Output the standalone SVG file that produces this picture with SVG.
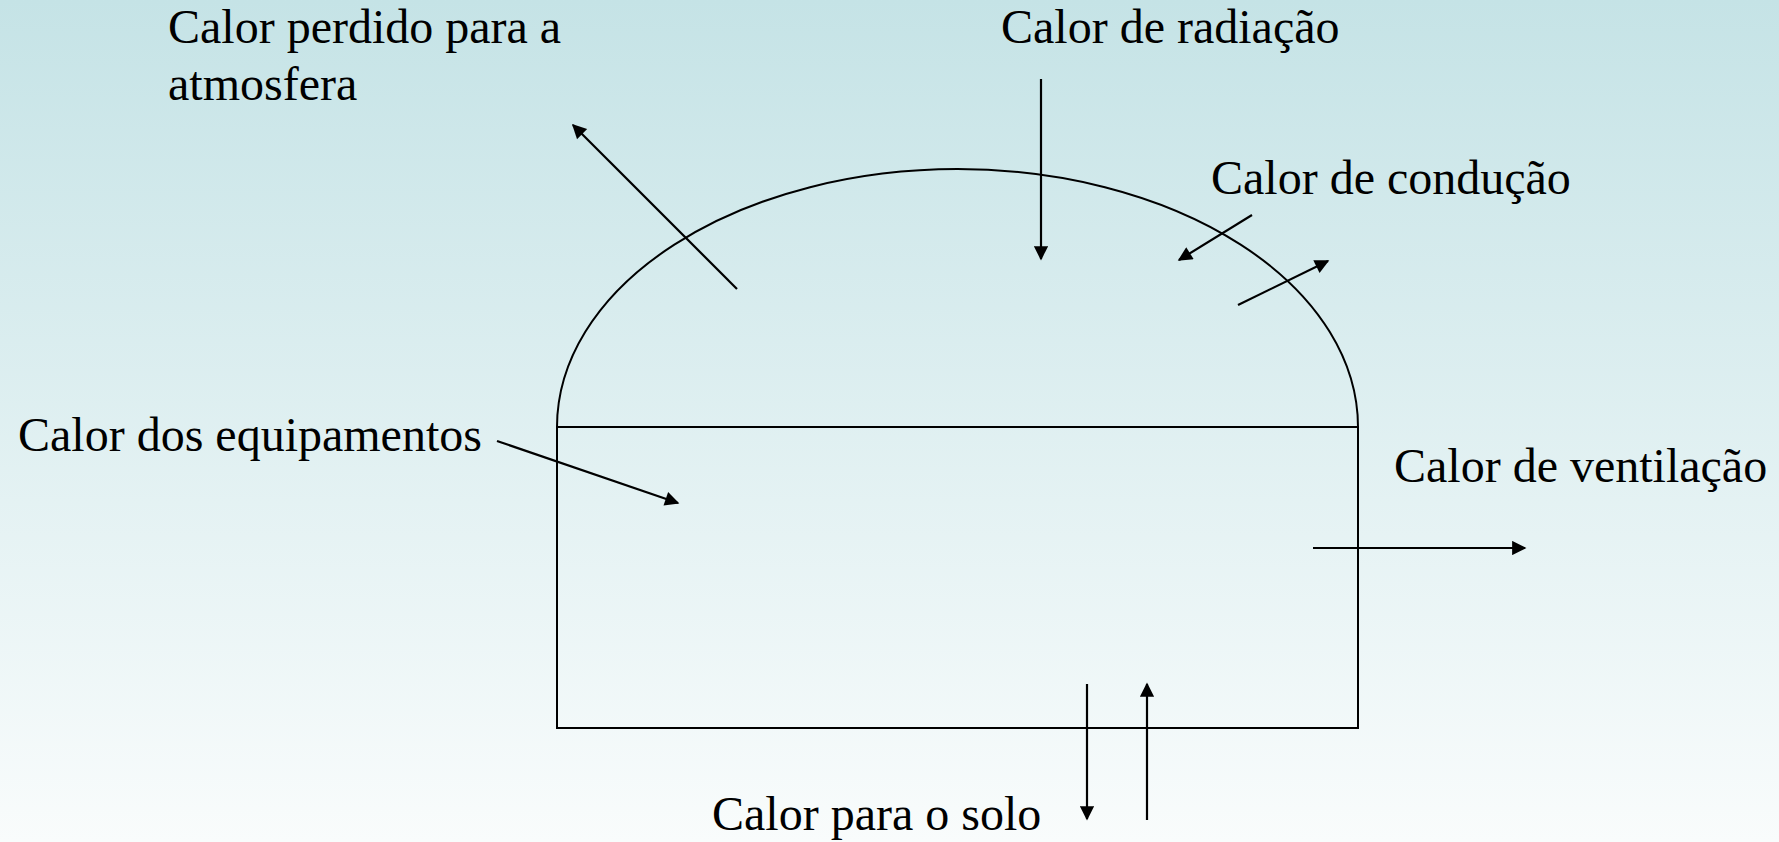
<svg xmlns="http://www.w3.org/2000/svg" width="1779" height="842" viewBox="0 0 1779 842">
<defs>
<linearGradient id="bg" x1="0" y1="0" x2="0" y2="1">
<stop offset="0" stop-color="#c5e3e6"/>
<stop offset="1" stop-color="#f9fcfc"/>
</linearGradient>
<marker id="ah" viewBox="0 0 10 10" refX="9" refY="5" markerWidth="8" markerHeight="6.5" orient="auto" markerUnits="strokeWidth">
<path d="M0,0 L10,5 L0,10 z" fill="#000"/>
</marker>
<style>
.shape{fill:none;stroke:#000;stroke-width:2}
.arr{fill:none;stroke:#000;stroke-width:2.2;marker-end:url(#ah)}
</style>
</defs>
<rect x="0" y="0" width="1779" height="842" fill="url(#bg)"/>
<g id="building">
<path class="shape" d="M557,427 A400.5,258 0 0 1 1358,427"/>
<rect class="shape" x="557" y="427" width="801" height="301"/>
</g>
<g id="connectors">
<line class="arr" x1="737" y1="289" x2="573" y2="125"/>
<line class="arr" x1="1041" y1="79" x2="1041" y2="259"/>
<line class="arr" x1="1252" y1="215" x2="1179" y2="260"/>
<line class="arr" x1="1238" y1="305" x2="1328" y2="261"/>
<line class="arr" x1="497" y1="441" x2="678" y2="503"/>
<line class="arr" x1="1313" y1="548" x2="1525" y2="548"/>
<line class="arr" x1="1087" y1="684" x2="1087" y2="819"/>
<line class="arr" x1="1147" y1="820" x2="1147" y2="684"/>
</g>
<g id="labels" font-family="Liberation Serif, Times New Roman, serif" font-size="48" fill="#000">
<g id="label-atmosfera">
<text x="168" y="43">Calor perdido para a</text>
<text x="168" y="100">atmosfera</text>
</g>
<g id="label-radiacao"><text x="1001" y="43">Calor de radiação</text></g>
<g id="label-conducao"><text x="1211" y="194">Calor de condução</text></g>
<g id="label-equipamentos"><text x="18" y="451">Calor dos equipamentos</text></g>
<g id="label-ventilacao"><text x="1394" y="482">Calor de ventilação</text></g>
<g id="label-solo"><text x="712" y="830">Calor para o solo</text></g>
</g>
</svg>
